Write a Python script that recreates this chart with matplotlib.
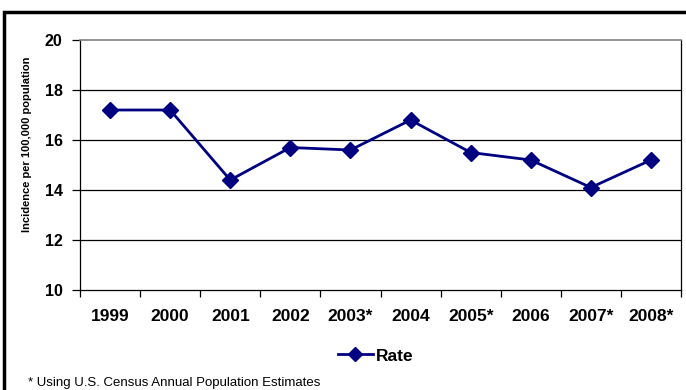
import matplotlib
matplotlib.use("Agg")
import matplotlib.pyplot as plt
from matplotlib.patches import Rectangle
from matplotlib.lines import Line2D

years = ["1999", "2000", "2001", "2002", "2003*", "2004", "2005*", "2006", "2007*", "2008*"]
rate = [17.2, 17.2, 14.4, 15.7, 15.6, 16.8, 15.5, 15.2, 14.1, 15.2]
yticks = [10, 12, 14, 16, 18, 20]

plt.rcParams['font.family'] = ['Liberation Sans', 'DejaVu Sans']

fig = plt.figure(figsize=(6.86, 3.90), dpi=100)
W, H = 686, 390
ax = fig.add_axes([80 / W, 1 - 290 / H, 601 / W, 250 / H])

x = list(range(len(years)))
ax.plot(x, rate, color='#000080', lw=2, marker='D', markersize=8,
        markerfacecolor='#000080', markeredgecolor='#000080', zorder=3)

ax.set_xlim(-0.5, len(years) - 0.5)
ax.set_ylim(10, 20)
ax.set_yticks(yticks)
ax.set_yticklabels([str(v) for v in yticks], fontsize=11.5, fontweight='bold')
for v in yticks[1:-1]:
    ax.axhline(v, color='black', lw=0.9, zorder=1)

ax.set_xticks([i - 0.5 for i in range(len(years) + 1)])
ax.set_xticklabels([])
ax.set_xticks(x, minor=True)
ax.set_xticklabels(years, minor=True, fontsize=12.5, fontweight='bold')
ax.tick_params(axis='x', which='minor', length=0, pad=14)
ax.tick_params(axis='x', which='major', length=5, width=0.9, direction='out')
ax.tick_params(axis='y', length=6, width=0.9, direction='out', pad=6.5)

for s in ['left', 'bottom', 'right']:
    ax.spines[s].set_color('black')
    ax.spines[s].set_linewidth(0.9)
ax.spines['top'].set_color('#808080')
ax.spines['top'].set_linewidth(1.2)

ax.set_ylabel("Incidence per 100,000 population", fontsize=8, fontweight='bold')
ax.yaxis.set_label_coords((32 - 80) / 601, (290 - 144) / 250)

handle = Line2D([], [], color='#000080', lw=2, marker='D', markersize=7,
                markerfacecolor='#000080', markeredgecolor='#000080')
fig.legend([handle], ["Rate"], loc='center', bbox_to_anchor=(376 / W, 1 - 356 / H),
           frameon=False, prop={'weight': 'bold', 'size': 12.5}, handlelength=2.0,
           handletextpad=0.2)

fig.text(28 / W, 1 - 383 / H, "* Using U.S. Census Annual Population Estimates",
         fontsize=9.5, va='center', ha='left')

fig.patches.append(Rectangle((4 / W, -0.2), 1.2, (1 - 12 / H) + 0.2, transform=fig.transFigure,
                             fill=False, edgecolor='black', lw=2.5, zorder=0))

fig.savefig("out.png", dpi=100)
